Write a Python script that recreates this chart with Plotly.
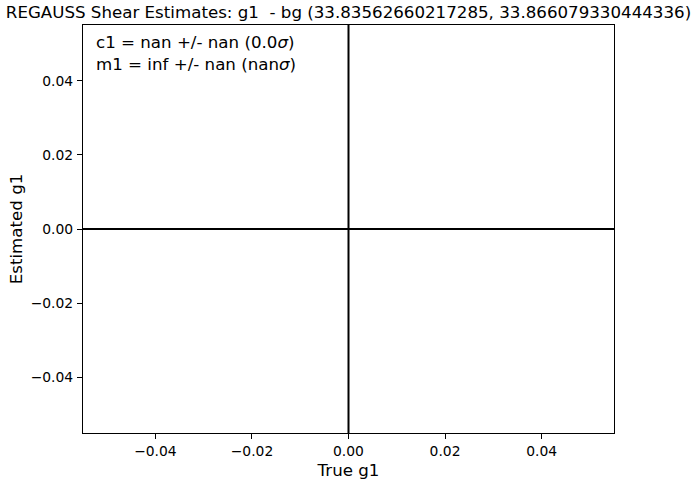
import plotly.graph_objects as go

# Data (empty estimates; reference lines at zero)
true_g1 = []
est_g1 = []
zero_x = 0.0
zero_y = 0.0
x_range = [-0.055, 0.055]
y_range = [-0.055, 0.055]
x_ticks = [-0.04, -0.02, 0.0, 0.02, 0.04]
y_ticks = [-0.04, -0.02, 0.0, 0.02, 0.04]
x_ticklabels = ["\u22120.04", "\u22120.02", "0.00", "0.02", "0.04"]
y_ticklabels = ["\u22120.04", "\u22120.02", "0.00", "0.02", "0.04"]
title_text = "REGAUSS Shear Estimates: g1  - bg (33.83562660217285, 33.866079330444336)"
stats_lines = ["c1 = nan +/- nan (0.0<i>\u03c3</i>)", "m1 = inf +/- nan (nan<i>\u03c3</i>)"]

FONT = "DejaVu Sans"
BIG = 16.67
SMALL = 13.89

fig = go.Figure()
fig.add_trace(go.Scatter(x=true_g1, y=est_g1, mode="markers", showlegend=False))

fig.add_shape(type="line", xref="x", yref="y domain", x0=zero_x, x1=zero_x, y0=0, y1=1,
              line=dict(color="black", width=2))
fig.add_shape(type="line", xref="x domain", yref="y", x0=0, x1=1, y0=zero_y, y1=zero_y,
              line=dict(color="black", width=2))

fig.add_annotation(xref="x domain", yref="y domain", x=0.02, y=0.985,
                   xanchor="left", yanchor="top", align="left", showarrow=False,
                   text="<br>".join(stats_lines),
                   font=dict(family=FONT, size=BIG, color="black"))

axis_common = dict(showgrid=False, zeroline=False, showline=True, mirror=True,
                   linecolor="black", linewidth=1.1, ticks="outside", ticklen=5,
                   tickwidth=1.1, tickcolor="black", automargin=False,
                   tickfont=dict(family=FONT, size=SMALL, color="black"))

fig.update_xaxes(range=x_range, tickvals=x_ticks, ticktext=x_ticklabels,
                 title=dict(text="True g1", font=dict(family=FONT, size=BIG, color="black"), standoff=6),
                 **axis_common)
fig.update_yaxes(range=y_range, tickvals=y_ticks, ticktext=y_ticklabels,
                 ticklabelstandoff=1,
                 title=dict(text="Estimated g1", font=dict(family=FONT, size=BIG, color="black"), standoff=3),
                 **axis_common)

fig.update_layout(
    width=696, height=482,
    margin=dict(l=83, r=82, t=25, b=49),
    plot_bgcolor="white", paper_bgcolor="white",
    title=dict(text=title_text, x=(83 + 614) / 2 / 696, xanchor="center",
               y=1 - 12 / 482, yanchor="middle", yref="container",
               font=dict(family=FONT, size=BIG, color="black")),
    font=dict(family=FONT, color="black"),
)

fig.write_html("out.html", config={"displayModeBar": False},
               post_script="document.body.style.margin='0px';document.body.style.overflow='hidden';")
